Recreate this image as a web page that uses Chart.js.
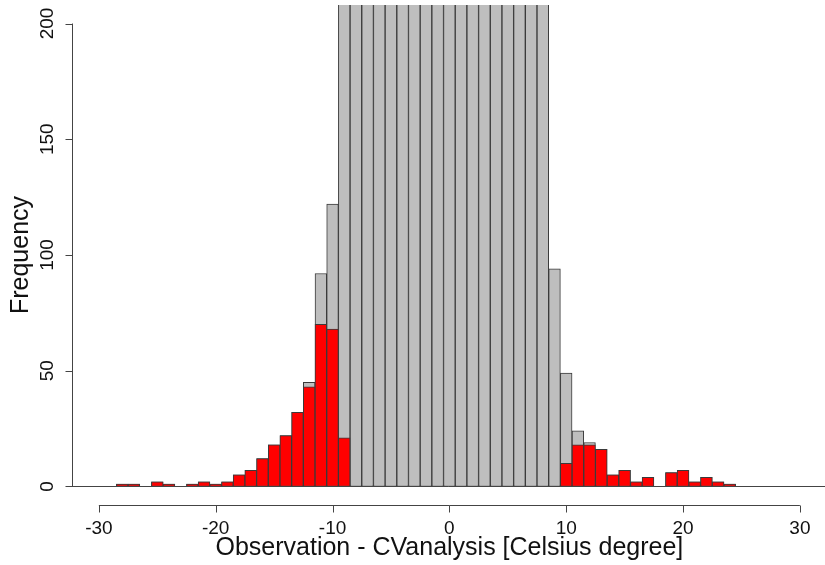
<!DOCTYPE html>
<html>
<head>
<meta charset="utf-8">
<script src="https://cdn.jsdelivr.net/npm/chart.js@4/dist/chart.umd.min.js"></script>
<style>
  html, body { margin: 0; padding: 0; background: #fff; }
  canvas { display: block; }
</style>
</head>
<body>
<canvas id="histChart" width="825" height="565"></canvas>
<script>
// ========================================
// DATA (bin centres, 1 degree wide)
// ========================================

const bins = [-32, -31, -30, -29, -28, -27, -26, -25, -24, -23, -22, -21, -20, -19, -18, -17,
              -16, -15, -14, -13, -12, -11, -10, -9, -8, -7, -6, -5, -4, -3, -2, -1,
              0, 1, 2, 3, 4, 5, 6, 7, 8, 9, 10, 11, 12, 13, 14, 15, 16,
              17, 18, 19, 20, 21, 22, 23, 24, 25, 26, 27, 28, 29, 30, 31, 32];

// all observations (grey); the central bins run off the top of the plot
const allCounts = [0, 0, 0, 0, 1, 1, 0, 2, 1, 0, 1, 2, 1, 2, 5, 7,
                   12, 18, 22, 32, 45, 92, 122, 240, 330, 460, 640, 880, 1150, 1420, 1680, 1850,
                   1920, 1870, 1720, 1480, 1190, 900, 620, 410, 250, 94, 49, 24, 19, 16, 5, 7, 2,
                   4, 0, 6, 7, 2, 4, 2, 1, 0, 0, 0, 0, 0, 0, 0, 0];

// flagged observations (red)
const flaggedCounts = [0, 0, 0, 0, 1, 1, 0, 2, 1, 0, 1, 2, 1, 2, 5, 7,
                       12, 18, 22, 32, 43, 70, 68, 21, 0, 0, 0, 0, 0, 0, 0, 0,
                       0, 0, 0, 0, 0, 0, 0, 0, 0, 0, 10, 18, 18, 16, 5, 7, 2,
                       4, 0, 6, 7, 2, 4, 2, 1, 0, 0, 0, 0, 0, 0, 0, 0];

const xTicks = [-30, -20, -10, 0, 10, 20, 30];
const yTicks = [0, 50, 100, 150, 200];

const xTitle = 'Observation - CVanalysis [Celsius degree]';
const yTitle = 'Frequency';

// ========================================
// R-style axes drawn from the chart scales
// ========================================

const FONT = '"Liberation Sans", Arial, Helvetica, sans-serif';
const AXIS_COLOR = '#444';
const TEXT_COLOR = '#111';

const rAxesPlugin = {
    id: 'rAxes',
    afterDatasetsDraw(chart) {
        const ctx = chart.ctx;
        const xs = chart.scales.x;
        const ys = chart.scales.y;
        const area = chart.chartArea;

        ctx.save();
        ctx.strokeStyle = AXIS_COLOR;
        ctx.lineWidth = 1;

        // zero line under the empty bins
        const y0 = Math.round(ys.getPixelForValue(0)) + 0.5;
        ctx.beginPath();
        ctx.moveTo(area.left, y0);
        ctx.lineTo(area.right, y0);
        ctx.stroke();

        // x axis
        const xAxisY = Math.round(area.bottom) + 0.5;
        ctx.beginPath();
        ctx.moveTo(xs.getPixelForValue(xTicks[0]), xAxisY);
        ctx.lineTo(xs.getPixelForValue(xTicks[xTicks.length - 1]), xAxisY);
        xTicks.forEach(t => {
            const px = Math.round(xs.getPixelForValue(t)) + 0.5;
            ctx.moveTo(px, xAxisY);
            ctx.lineTo(px, xAxisY + 7);
        });
        ctx.stroke();

        // y axis
        const yAxisX = Math.round(area.left) + 0.5;
        ctx.beginPath();
        ctx.moveTo(yAxisX, ys.getPixelForValue(yTicks[0]));
        ctx.lineTo(yAxisX, ys.getPixelForValue(yTicks[yTicks.length - 1]));
        yTicks.forEach(t => {
            const py = Math.round(ys.getPixelForValue(t)) + 0.5;
            ctx.moveTo(yAxisX, py);
            ctx.lineTo(yAxisX - 7, py);
        });
        ctx.stroke();

        // tick labels
        ctx.fillStyle = TEXT_COLOR;
        ctx.font = '19px ' + FONT;
        ctx.textAlign = 'center';
        ctx.textBaseline = 'alphabetic';
        xTicks.forEach(t => {
            ctx.fillText(String(t), xs.getPixelForValue(t), xAxisY + 28);
        });
        yTicks.forEach(t => {
            ctx.save();
            ctx.translate(yAxisX - 20, ys.getPixelForValue(t));
            ctx.rotate(-Math.PI / 2);
            ctx.fillText(String(t), 0, 0);
            ctx.restore();
        });

        // axis titles
        ctx.font = '25px ' + FONT;
        ctx.fillText(xTitle, xs.getPixelForValue(0), 555);
        ctx.save();
        ctx.translate(28, (ys.getPixelForValue(0) + ys.getPixelForValue(200)) / 2);
        ctx.rotate(-Math.PI / 2);
        ctx.fillText(yTitle, 0, 0);
        ctx.restore();

        ctx.restore();
    }
};

// ========================================
// CHART
// ========================================

function toPoints(values) {
    return bins.map((b, i) => ({ x: b, y: values[i] }));
}

const ctx = document.getElementById('histChart').getContext('2d');

new Chart(ctx, {
    type: 'bar',
    data: {
        datasets: [
            {
                label: 'flagged',
                data: toPoints(flaggedCounts),
                backgroundColor: '#FF0000',
                borderColor: '#3a3a3a',
                borderWidth: 1,
                borderSkipped: false,
                order: 0
            },
            {
                label: 'all',
                data: toPoints(allCounts),
                backgroundColor: '#BEBEBE',
                borderColor: '#3a3a3a',
                borderWidth: 1,
                borderSkipped: false,
                order: 1
            }
        ]
    },
    options: {
        responsive: false,
        animation: false,
        devicePixelRatio: 1,
        layout: {
            padding: { left: 72, right: 0, top: 5, bottom: 60 }
        },
        datasets: {
            bar: {
                grouped: false,
                barPercentage: 1,
                categoryPercentage: 1
            }
        },
        plugins: {
            legend: { display: false },
            tooltip: { enabled: false }
        },
        scales: {
            x: {
                type: 'linear',
                display: false,
                offset: false,
                min: -32.3,
                max: 32.15
            },
            y: {
                type: 'linear',
                display: false,
                min: -8,
                max: 208
            }
        }
    },
    plugins: [rAxesPlugin]
});
</script>
</body>
</html>
